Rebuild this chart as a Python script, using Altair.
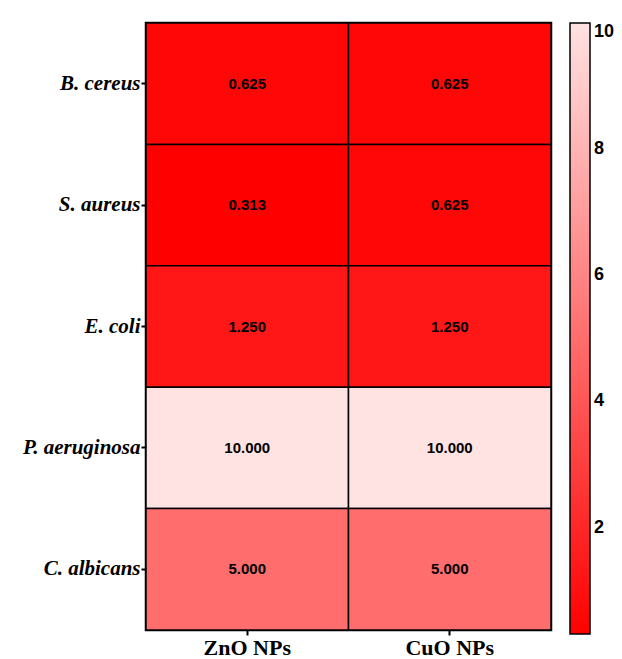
import altair as alt
import pandas as pd

organisms = ["B. cereus", "S. aureus", "E. coli", "P. aeruginosa", "C. albicans"]
materials = ["ZnO NPs", "CuO NPs"]
zno_values = [0.625, 0.313, 1.250, 10.000, 5.000]
cuo_values = [0.625, 0.625, 1.250, 10.000, 5.000]
legend_ticks = [2, 4, 6, 8, 10]

rows = []
for org, z, c in zip(organisms, zno_values, cuo_values):
    rows.append({"organism": org, "material": materials[0], "value": z})
    rows.append({"organism": org, "material": materials[1], "value": c})
df = pd.DataFrame(rows)

x = alt.X("material:N", sort=materials, title=None,
          axis=alt.Axis(labelAngle=0, labelFont="Liberation Serif", labelFontWeight="bold",
                        labelFontSize=22, labelColor="black", tickColor="black", tickSize=5,
                        tickWidth=2, domain=False, labelPadding=2))
y = alt.Y("organism:N", sort=organisms, title=None,
          axis=alt.Axis(labelFont="Liberation Serif", labelFontWeight="bold", labelFontStyle="italic",
                        labelFontSize=21, labelColor="black", tickColor="black", tickSize=5,
                        tickWidth=2, domain=False, labelPadding=1))

color = alt.Color("value:Q", title=None,
                  scale=alt.Scale(domain=[0.313, 10], range=["#ff0000", "#ffe2e2"], interpolate="rgb"),
                  legend=alt.Legend(values=legend_ticks, gradientLength=611, gradientThickness=20,
                                    gradientStrokeColor="black", gradientStrokeWidth=1.5,
                                    labelFont="Liberation Sans", labelFontWeight="bold",
                                    labelFontSize=18, labelColor="black", offset=19,
                                    labelOffset=4, direction="vertical"))

rect = alt.Chart(df).mark_rect(stroke="black", strokeWidth=1.5).encode(x=x, y=y, color=color)
text = alt.Chart(df).mark_text(font="Liberation Sans", fontWeight="bold", fontSize=15,
                               color="black").encode(
    x=alt.X("material:N", sort=materials),
    y=alt.Y("organism:N", sort=organisms),
    text=alt.Text("value:Q", format=".3f"))

chart = (rect + text).properties(
    width=405, height=607,
    autosize=alt.AutoSizeParams(type="none"),
    padding={"top": 15, "left": 138, "right": 63, "bottom": 30},
).configure_view(stroke="black", strokeWidth=2.5).configure_scale(bandPaddingInner=0, bandPaddingOuter=0)

chart.save("out.html", embed_options={"renderer": "svg", "actions": False})
